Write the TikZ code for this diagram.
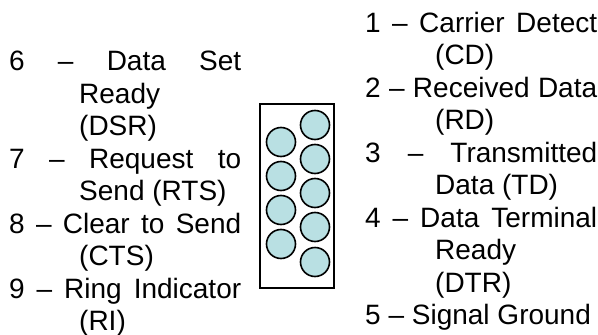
\documentclass[tikz,border=0pt]{standalone}
\usepackage{fontspec}
\setmainfont{Liberation Sans}
\definecolor{contactfill}{HTML}{B9E0E3}
\tikzset{
	contact/.style={circle,draw,line width=1.6pt,fill=contactfill,minimum size=29pt,inner sep=0pt},
	pinlabel/.style={anchor=base west,inner sep=0pt,text width=232pt,align=justify,
		font=\fontsize{28}{32.5}\selectfont,
		execute at begin node={\hangindent=70pt\hangafter=1\tolerance=9999}},
}
\begin{document}
\begin{tikzpicture}[x=1pt,y=-1pt]
		\useasboundingbox (0,0) rectangle (598,335);
		\node[draw,line width=1.6pt,minimum width=74pt,minimum height=184pt,inner sep=0pt] (shell) at (297,196) {};
		\foreach \n/\y in {1/125,2/159,3/193,4/227,5/262}
			\node[contact] (c\n) at (315,\y) {};
		\foreach \n/\y in {6/142,7/176,8/210,9/244}
			\node[contact] (c\n) at (281,\y) {};
		\node[pinlabel] (l6) at (9,70.5) {6 – Data Set\linebreak Ready\linebreak (DSR)};
		\node[pinlabel] (l7) at (9,168) {7 – Request to\linebreak Send (RTS)};
		\node[pinlabel] (l8) at (9,233) {8 – Clear to Send\linebreak (CTS)};
		\node[pinlabel] (l9) at (9,298) {9 – Ring Indicator\linebreak (RI)};
		\node[pinlabel] (l1) at (365,32) {1 – Carrier Detect\linebreak (CD)};
		\node[pinlabel] (l2) at (365,97) {2 – Received Data\linebreak (RD)};
		\node[pinlabel] (l3) at (365,162) {3 – Transmitted\linebreak Data (TD)};
		\node[pinlabel] (l4) at (365,227) {4 – Data Terminal\linebreak Ready\linebreak (DTR)};
		\node[pinlabel] (l5) at (365,324.5) {5 – Signal Ground};
\end{tikzpicture}
\end{document}
